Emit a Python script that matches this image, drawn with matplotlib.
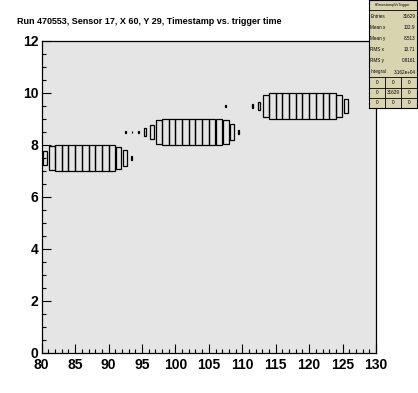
import numpy as np
import matplotlib
matplotlib.use("Agg")
import matplotlib.pyplot as plt
from matplotlib.patches import Rectangle
from matplotlib.ticker import MultipleLocator

plt.rcParams['font.family'] = ['Liberation Sans', 'DejaVu Sans']

# trigger time bin (lower edge) and counts, one list per timestamp row
row7_x = [80, 81, 82, 83, 84, 85, 86, 87, 88, 89, 90, 91, 92, 93]
row7_n = [230, 830, 916, 916, 916, 916, 916, 916, 916, 916, 916, 665, 331, 21]
row8_x = [92, 93, 94, 95, 96, 97, 98, 99, 100, 101, 102, 103, 104, 105, 106, 107, 108, 109]
row8_n = [12, 12, 12, 83, 249, 779, 916, 916, 916, 916, 916, 916, 916, 880, 866, 745, 331, 21]
row9_x = [107, 111, 112, 113, 114, 115, 116, 117, 118, 119, 120, 121, 122, 123, 124, 125]
row9_n = [12, 21, 83, 665, 916, 916, 916, 916, 916, 916, 916, 916, 916, 916, 712, 230]
rows_y = [7, 8, 9]

title = "Run 470553, Sensor 17, X 60, Y 29, Timestamp vs. trigger time"
stats_name = "hTimestampVsTrigger"
stats_labels = ["Entries", "Mean x", "Mean y", "RMS x", "RMS y", "Integral"]
stats_values = ["31629", "102.9", "8.513", "13.71", "0.8161", "3.162e+04"]
overflow = [["0", "0", "0"], ["0", "31629", "0"], ["0", "0", "0"]]

W, H = 418, 393
fig = plt.figure(figsize=(W / 100, H / 100), dpi=100)
fig.patch.set_facecolor('white')

ax = fig.add_axes([41.7 / W, 1 - 353 / H, (376 - 41.7) / W, (353 - 41) / H])
ax.set_facecolor('#e5e5e5')

zmax = max(max(row7_n), max(row8_n), max(row9_n))
for y, xs, ns in zip(rows_y, [row7_x, row8_x, row9_x], [row7_n, row8_n, row9_n]):
    for x, n in zip(xs, ns):
        r = np.sqrt(n / zmax)
        ax.add_patch(Rectangle((x + 0.5 - 0.5 * r, y + 0.5 - 0.5 * r), r, r,
                               fill=False, ec='black', lw=0.9))

ax.set_xlim(80, 130)
ax.set_ylim(0, 12)
ax.xaxis.set_major_locator(MultipleLocator(5))
ax.xaxis.set_minor_locator(MultipleLocator(1))
ax.yaxis.set_major_locator(MultipleLocator(2))
ax.yaxis.set_minor_locator(MultipleLocator(0.5))
ax.tick_params(which='major', direction='in', length=6.5, width=0.8, labelsize=10, pad=3.5)
ax.tick_params(which='minor', direction='in', length=3.2, width=0.8)
ax.tick_params(axis='y', pad=2.5)
for lab in ax.get_xticklabels() + ax.get_yticklabels():
    lab.set_fontweight('bold')
for s in ax.spines.values():
    s.set_linewidth(0.9)

fig.text(17 / W, 1 - 22 / H, title, fontsize=6.5, fontweight='bold', va='center', ha='left')

# stats box, drawn in pixel units
st = fig.add_axes([369 / W, 1 - 108 / H, 48 / W, 108 / H])
st.set_facecolor('#d9d4b0')
st.set_xlim(0, 48)
st.set_ylim(108, 0)
st.set_xticks([])
st.set_yticks([])
for s in st.spines.values():
    s.set_linewidth(0.8)
st.text(24, 4.7, stats_name, fontsize=2.6, ha='center', va='center')
st.axhline(9.5, color='black', lw=0.6)
for i, (lab, val) in enumerate(zip(stats_labels, stats_values)):
    yy = 16 + i * 11.2
    st.text(1.5, yy, lab, fontsize=3.3, ha='left', va='center')
    st.text(46.5, yy, val, fontsize=3.3, ha='right', va='center')
for yl in [77.3, 87.5, 97.7]:
    st.axhline(yl, color='black', lw=0.6)
for xl in [16, 32]:
    st.plot([xl, xl], [77.3, 108], color='black', lw=0.6)
for i, row in enumerate(overflow):
    for j, val in enumerate(row):
        st.text(8 + 16 * j, 82.4 + 10.2 * i, val, fontsize=3.3, ha='center', va='center')

fig.savefig("out.png", dpi=100)
